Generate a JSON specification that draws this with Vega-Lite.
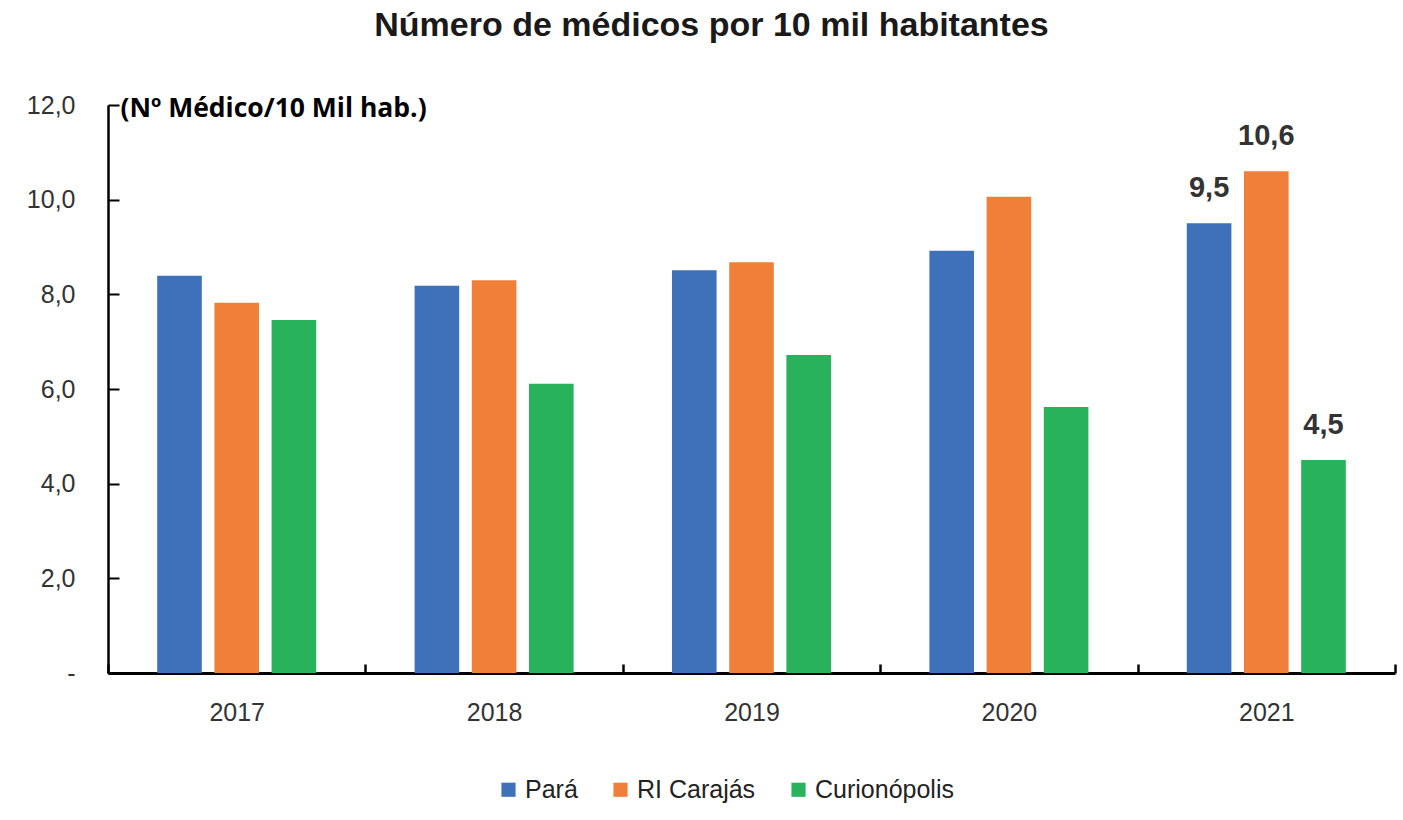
{
  "$schema": "https://vega.github.io/schema/vega-lite/v6.json",
  "width": 1287,
  "height": 568,
  "autosize": {"type": "none"},
  "padding": {"left": 108, "top": 105, "right": 8, "bottom": 147},
  "background": "white",
  "config": {
    "locale": {"number": {"decimal": ",", "thousands": ".", "grouping": [3], "currency": ["R$", ""]}},
    "view": {"stroke": null},
    "font": "Liberation Sans"
  },
  "title": {
    "text": "Número de médicos por 10 mil habitantes",
    "font": "Liberation Sans",
    "fontSize": 34,
    "fontWeight": "bold",
    "color": "#1a1a1a",
    "anchor": "middle",
    "frame": "group",
    "dx": -40,
    "offset": 50
  },
  "data": {
    "values": [
      {"year": "2017", "region": "Pará", "value": 8.39},
      {"year": "2017", "region": "RI Carajás", "value": 7.82},
      {"year": "2017", "region": "Curionópolis", "value": 7.46},
      {"year": "2018", "region": "Pará", "value": 8.18},
      {"year": "2018", "region": "RI Carajás", "value": 8.3},
      {"year": "2018", "region": "Curionópolis", "value": 6.11},
      {"year": "2019", "region": "Pará", "value": 8.51},
      {"year": "2019", "region": "RI Carajás", "value": 8.68},
      {"year": "2019", "region": "Curionópolis", "value": 6.72},
      {"year": "2020", "region": "Pará", "value": 8.92},
      {"year": "2020", "region": "RI Carajás", "value": 10.06},
      {"year": "2020", "region": "Curionópolis", "value": 5.62},
      {"year": "2021", "region": "Pará", "value": 9.5},
      {"year": "2021", "region": "RI Carajás", "value": 10.6},
      {"year": "2021", "region": "Curionópolis", "value": 4.5}
    ]
  },
  "encoding": {
    "x": {
      "field": "year",
      "type": "nominal",
      "scale": {"paddingInner": 0, "paddingOuter": 0},
      "axis": {
        "title": null,
        "labelAngle": 0,
        "tickBand": "extent",
        "domainColor": "#000000",
        "domainWidth": 3,
        "tickColor": "#000000",
        "tickWidth": 2.5,
        "tickSize": -9,
        "labelPadding": 36,
        "labelFont": "Liberation Sans",
        "labelFontSize": 25,
        "labelColor": "#333333"
      }
    },
    "xOffset": {
      "field": "region",
      "type": "nominal",
      "sort": ["Pará", "RI Carajás", "Curionópolis"],
      "scale": {"paddingInner": 0.22, "paddingOuter": 0.86}
    },
    "y": {
      "field": "value",
      "type": "quantitative",
      "scale": {"domain": [0, 12], "nice": false},
      "axis": {
        "values": [0, 2, 4, 6, 8, 10, 12],
        "labelExpr": "datum.value == 0 ? '-' : datum.label",
        "format": ".1f",
        "grid": false,
        "domainColor": "#000000",
        "domainWidth": 2.5,
        "tickColor": "#000000",
        "tickWidth": 2,
        "tickSize": -11,
        "labelPadding": 44,
        "labelFont": "Liberation Sans",
        "labelFontSize": 25,
        "labelColor": "#333333",
        "title": "(Nº Médico/10 Mil hab.)",
        "titleAngle": 0,
        "titleAlign": "left",
        "titleBaseline": "middle",
        "titleX": 12,
        "titleY": 3,
        "titleFont": "Open Sans",
        "titleFontSize": 26.5,
        "titleFontWeight": "bold",
        "titleColor": "#000000"
      }
    }
  },
  "layer": [
    {
      "mark": {"type": "bar"},
      "encoding": {
        "color": {
          "field": "region",
          "type": "nominal",
          "sort": ["Pará", "RI Carajás", "Curionópolis"],
          "scale": {
            "domain": ["Pará", "RI Carajás", "Curionópolis"],
            "range": ["#3f71ba", "#f07f3a", "#29b25c"]
          },
          "legend": {
            "title": null,
            "orient": "none",
            "direction": "horizontal",
            "legendX": 388,
            "legendY": 672,
            "symbolType": "square",
            "symbolSize": 200,
            "symbolStrokeWidth": 0,
            "labelFont": "Liberation Sans",
            "labelFontSize": 25,
            "labelColor": "#222222",
            "labelOffset": 4,
            "columnPadding": 30
          }
        }
      }
    },
    {
      "transform": [{"filter": "datum.year == '2021'"}],
      "mark": {
        "type": "text",
        "baseline": "alphabetic",
        "dy": -26,
        "font": "Liberation Sans",
        "fontSize": 29,
        "fontWeight": "bold",
        "color": "#333333"
      },
      "encoding": {
        "text": {"field": "value", "type": "quantitative", "format": ".1f"}
      }
    }
  ]
}
